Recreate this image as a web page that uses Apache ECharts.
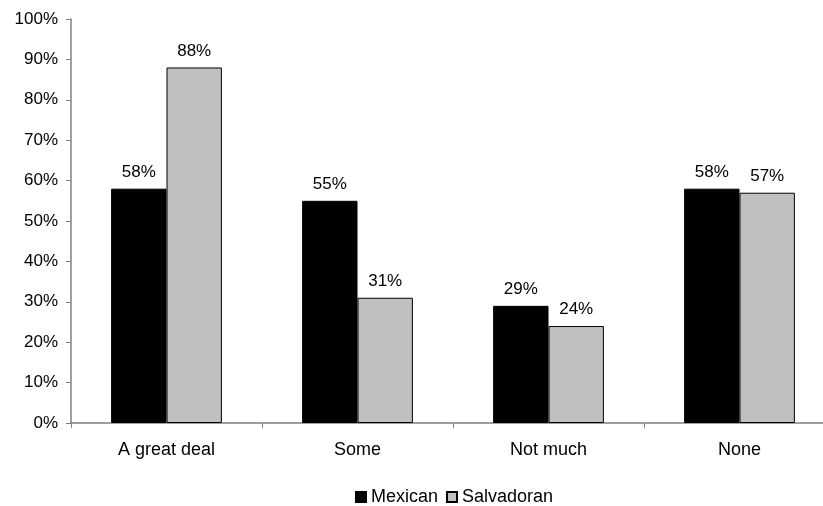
<!DOCTYPE html>
<html>
<head>
<meta charset="utf-8">
<script src="https://cdn.jsdelivr.net/npm/echarts@6/dist/echarts.min.js"></script>
<style>
  html, body { margin: 0; padding: 0; background: #fff; overflow: hidden; }
  /* plot area runs slightly past the right edge of the window */
  #chart { width: 840px; height: 506px; }
</style>
</head>
<body>
<div id="chart"></div>
<script>
// Amount of concern, by respondent group (percent)
const categories = ['A great deal', 'Some', 'Not much', 'None'];
const mexican = [58, 55, 29, 58];
const salvadoran = [88, 31, 24, 57];
const yTicks = [0, 10, 20, 30, 40, 50, 60, 70, 80, 90, 100];

const FONT = 'Liberation Sans, Arial, sans-serif';
const FS_NUM = 17;
const FS_TXT = 18;

const chart = echarts.init(document.getElementById('chart'), null, { renderer: 'canvas' });

const labelStyle = {
  show: true,
  position: 'top',
  distance: 8,
  formatter: p => p.value + '%',
  color: '#000',
  fontFamily: FONT,
  fontSize: FS_NUM
};

chart.setOption({
  animation: false,
  backgroundColor: '#fff',
  textStyle: { fontFamily: FONT },
  grid: { left: 71, width: 764, top: 19, height: 404, containLabel: false },
  legend: {
    top: 488,
    left: 355,
    padding: 0,
    itemWidth: 10,
    itemHeight: 10,
    itemGap: 8,
    icon: 'rect',
    textStyle: { fontFamily: FONT, fontSize: FS_TXT, color: '#000' },
    data: ['Mexican', 'Salvadoran']
  },
  xAxis: {
    type: 'category',
    data: categories,
    axisLine: { lineStyle: { color: '#808080', width: 1.5 } },
    axisTick: { show: true, alignWithLabel: false, length: 5, lineStyle: { color: '#808080' } },
    axisLabel: { color: '#000', fontSize: FS_TXT, fontFamily: FONT, margin: 18 },
    splitLine: { show: false }
  },
  yAxis: {
    type: 'value',
    min: yTicks[0],
    max: yTicks[yTicks.length - 1],
    interval: 10,
    axisLine: { show: true, lineStyle: { color: '#808080', width: 1.5 } },
    axisTick: { show: true, length: 5, lineStyle: { color: '#808080' } },
    axisLabel: { color: '#000', fontSize: FS_NUM, fontFamily: FONT, margin: 13, formatter: v => v + '%' },
    splitLine: { show: false }
  },
  series: [
    {
      name: 'Mexican',
      type: 'bar',
      data: mexican,
      barGap: '0%',
      barCategoryGap: '42%',
      itemStyle: { color: '#000000', borderColor: '#000', borderWidth: 1 },
      label: labelStyle
    },
    {
      name: 'Salvadoran',
      type: 'bar',
      data: salvadoran,
      itemStyle: { color: '#c0c0c0', borderColor: '#000', borderWidth: 1 },
      label: labelStyle
    }
  ]
});
</script>
</body>
</html>
